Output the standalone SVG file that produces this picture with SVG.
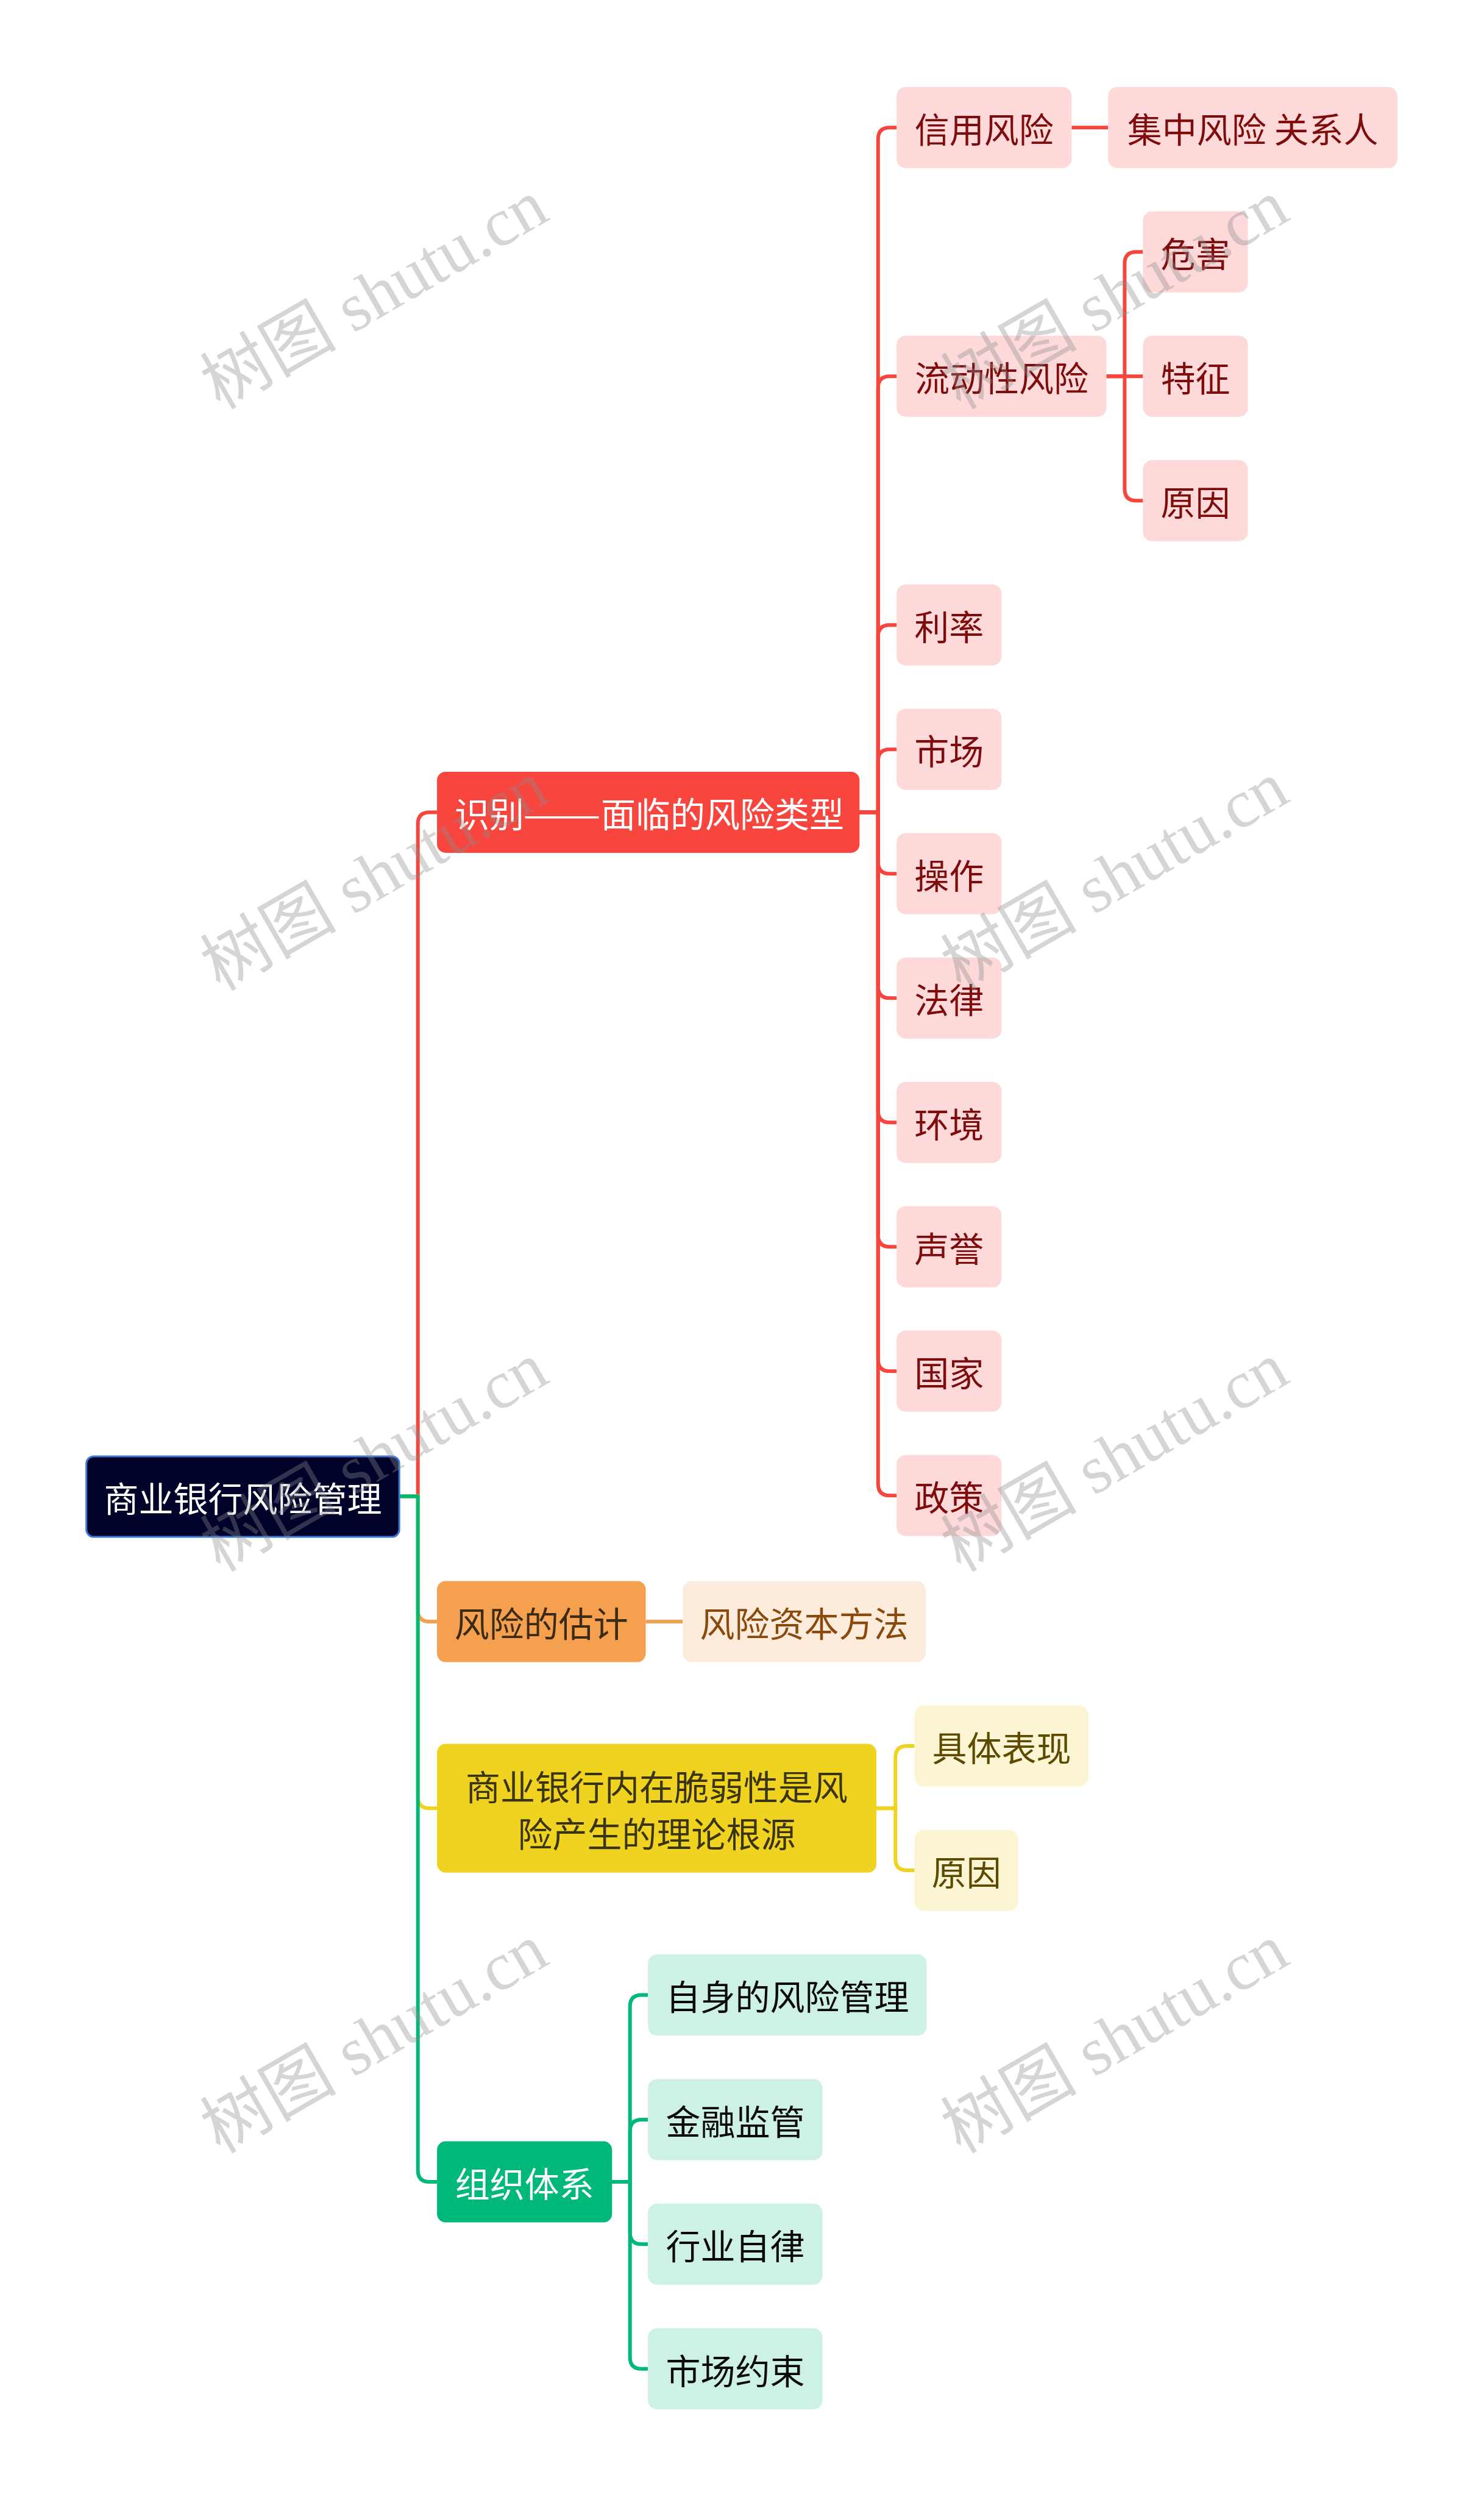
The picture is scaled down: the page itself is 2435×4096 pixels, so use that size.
<svg xmlns="http://www.w3.org/2000/svg" width="2435" height="4096" viewBox="0 0 2435 4096">
<style>
text{font-family:"Noto Sans CJK SC","Noto Sans",sans-serif;font-size:57px;text-anchor:middle;dominant-baseline:central}
.c{fill:none;stroke-width:6;stroke-linecap:butt}
.cr{stroke:#f5463e}.co{stroke:#f5a04f}.cy{stroke:#f0d321}.cg{stroke:#00b978}
.rc{fill:#fdd9d9}.rt{fill:#7f0c0c}
.wm{font-family:"Liberation Serif","Noto Sans CJK SC",serif;font-size:112px;fill:#8a8a8a;fill-opacity:0.36}
</style>
<rect width="2435" height="4096" fill="#ffffff"/>
<g id="connectors">
<path class="c cr" d="M655.2,2454.5 H685.7 V1351.4 Q685.7,1332.4 704.7,1332.4 H717.1"/>
<path class="c co" d="M655.2,2454.5 H685.7 V2641 Q685.7,2660 704.7,2660 H717.1"/>
<path class="c cy" d="M655.2,2454.5 H685.7 V2947.2 Q685.7,2966.2 704.7,2966.2 H717.1"/>
<path class="c cg" d="M655.2,2454.5 H685.7 V3560.1 Q685.7,3579.1 704.7,3579.1 H717.1"/>
<path class="c cr" d="M1410.3,1332.4 H1440.8 V228.2 Q1440.8,209.2 1459.8,209.2 H1471.2"/>
<path class="c cr" d="M1410.3,1332.4 H1440.8 V636.2 Q1440.8,617.2 1459.8,617.2 H1471.2"/>
<path class="c cr" d="M1410.3,1332.4 H1440.8 V1044.2 Q1440.8,1025.2 1459.8,1025.2 H1471.2"/>
<path class="c cr" d="M1410.3,1332.4 H1440.8 V1248.2 Q1440.8,1229.2 1459.8,1229.2 H1471.2"/>
<path class="c cr" d="M1410.3,1332.4 H1440.8 V1414.2 Q1440.8,1433.2 1459.8,1433.2 H1471.2"/>
<path class="c cr" d="M1410.3,1332.4 H1440.8 V1618.2 Q1440.8,1637.2 1459.8,1637.2 H1471.2"/>
<path class="c cr" d="M1410.3,1332.4 H1440.8 V1822.2 Q1440.8,1841.2 1459.8,1841.2 H1471.2"/>
<path class="c cr" d="M1410.3,1332.4 H1440.8 V2026.2 Q1440.8,2045.2 1459.8,2045.2 H1471.2"/>
<path class="c cr" d="M1410.3,1332.4 H1440.8 V2230.2 Q1440.8,2249.2 1459.8,2249.2 H1471.2"/>
<path class="c cr" d="M1410.3,1332.4 H1440.8 V2434.2 Q1440.8,2453.2 1459.8,2453.2 H1471.2"/>
<path class="c cr" d="M1758.4,209.2 H1818.3"/>
<path class="c cr" d="M1815.5,617.2 H1845.4 V432.2 Q1845.4,413.2 1864.4,413.2 H1875.4"/>
<path class="c cr" d="M1815.5,617.2 H1875.4"/>
<path class="c cr" d="M1815.5,617.2 H1845.4 V802.2 Q1845.4,821.2 1864.4,821.2 H1875.4"/>
<path class="c co" d="M1059.5,2660 H1120.3"/>
<path class="c cy" d="M1438,2966.2 H1469.3 V2883 Q1469.3,2864 1488.3,2864 H1500.7"/>
<path class="c cy" d="M1438,2966.2 H1469.3 V3049 Q1469.3,3068 1488.3,3068 H1500.7"/>
<path class="c cg" d="M1004.3,3579.1 H1033.7 V3291.4 Q1033.7,3272.4 1052.7,3272.4 H1063.2"/>
<path class="c cg" d="M1004.3,3579.1 H1033.7 V3495.9 Q1033.7,3476.9 1052.7,3476.9 H1063.2"/>
<path class="c cg" d="M1004.3,3579.1 H1033.7 V3662.3 Q1033.7,3681.3 1052.7,3681.3 H1063.2"/>
<path class="c cg" d="M1004.3,3579.1 H1033.7 V3866.8 Q1033.7,3885.8 1052.7,3885.8 H1063.2"/>
</g>
<g id="root"><rect x="141.7" y="2388.9" width="513.5" height="132.2" rx="12" fill="#000229" stroke="#3d7ad6" stroke-width="3"/><text x="398.5" y="2455" fill="#ffffff">商业银行风险管理</text></g>
<g id="n-shibie"><rect x="717.1" y="1265.9" width="693.2" height="133" rx="14" fill="#f8453e"/><text x="746" y="1332.4" fill="#ffffff" style="text-anchor:start">识别<tspan x="858" textLength="128" lengthAdjust="spacingAndGlyphs">——</tspan><tspan x="986">面临的风险类型</tspan></text></g>
<g id="n-xinyong"><rect class="rc" x="1471.2" y="142.7" width="287.2" height="133" rx="15"/><text class="rt" x="1614.8" y="209.2">信用风险</text></g>
<g id="n-jizhong"><rect class="rc" x="1818.3" y="142.7" width="474.5" height="133" rx="15"/><text class="rt" x="2055.6" y="209.2">集中风险 关系人</text></g>
<g id="n-liudong"><rect class="rc" x="1471.2" y="550.7" width="344.3" height="133" rx="15"/><text class="rt" x="1643.4" y="617.2">流动性风险</text></g>
<g id="n-weihai"><rect class="rc" x="1875.4" y="346.7" width="172.1" height="133" rx="15"/><text class="rt" x="1961.5" y="413.2">危害</text></g>
<g id="n-tezheng"><rect class="rc" x="1875.4" y="550.7" width="172.1" height="133" rx="15"/><text class="rt" x="1961.5" y="617.2">特征</text></g>
<g id="n-yuanyin1"><rect class="rc" x="1875.4" y="754.7" width="172.1" height="133" rx="15"/><text class="rt" x="1961.5" y="821.2">原因</text></g>
<g id="n-lilv"><rect class="rc" x="1471.2" y="958.7" width="172.1" height="133" rx="15"/><text class="rt" x="1557.3" y="1025.2">利率</text></g>
<g id="n-shichang"><rect class="rc" x="1471.2" y="1162.7" width="172.1" height="133" rx="15"/><text class="rt" x="1557.3" y="1229.2">市场</text></g>
<g id="n-caozuo"><rect class="rc" x="1471.2" y="1366.7" width="172.1" height="133" rx="15"/><text class="rt" x="1557.3" y="1433.2">操作</text></g>
<g id="n-falv"><rect class="rc" x="1471.2" y="1570.7" width="172.1" height="133" rx="15"/><text class="rt" x="1557.3" y="1637.2">法律</text></g>
<g id="n-huanjing"><rect class="rc" x="1471.2" y="1774.7" width="172.1" height="133" rx="15"/><text class="rt" x="1557.3" y="1841.2">环境</text></g>
<g id="n-shengyu"><rect class="rc" x="1471.2" y="1978.7" width="172.1" height="133" rx="15"/><text class="rt" x="1557.3" y="2045.2">声誉</text></g>
<g id="n-guojia"><rect class="rc" x="1471.2" y="2182.7" width="172.1" height="133" rx="15"/><text class="rt" x="1557.3" y="2249.2">国家</text></g>
<g id="n-zhengce"><rect class="rc" x="1471.2" y="2386.7" width="172.1" height="133" rx="15"/><text class="rt" x="1557.3" y="2453.2">政策</text></g>
<g id="n-guji"><rect x="717.1" y="2593.5" width="342.4" height="133" rx="14" fill="#f5a04f"/><text x="888.3" y="2660" fill="#3b2a14">风险的估计</text></g>
<g id="n-ziben"><rect x="1120.3" y="2593.5" width="398.5" height="133" rx="15" fill="#fdebdc"/><text x="1319.6" y="2660" fill="#8a4a0c">风险资本方法</text></g>
<g id="n-cuiruo"><rect x="717.1" y="2860.6" width="720.9" height="211.2" rx="14" fill="#f0d321"/><text x="1077.6" y="2927.7" fill="#3a3410">商业银行内在脆弱性是风</text><text x="1077.6" y="3004.7" fill="#3a3410">险产生的理论根源</text></g>
<g id="n-biaoxian"><rect x="1500.7" y="2797.5" width="285.3" height="133" rx="15" fill="#fcf5d4"/><text x="1643.4" y="2864" fill="#5c4a00">具体表现</text></g>
<g id="n-yuanyin2"><rect x="1500.7" y="3001.5" width="170.2" height="133" rx="15" fill="#fcf5d4"/><text x="1585.8" y="3068" fill="#5c4a00">原因</text></g>
<g id="n-zuzhi"><rect x="717.1" y="3512.6" width="287.2" height="133" rx="14" fill="#00b978"/><text x="860.7" y="3579.1" fill="#ffffff">组织体系</text></g>
<g id="n-zishen"><rect x="1063.2" y="3205.9" width="457.4" height="133" rx="15" fill="#cdf1e2"/><text x="1291.9" y="3272.4" fill="#0a0a0a">自身的风险管理</text></g>
<g id="n-jinrong"><rect x="1063.2" y="3410.4" width="286.3" height="133" rx="15" fill="#cdf1e2"/><text x="1206.4" y="3476.9" fill="#0a0a0a">金融监管</text></g>
<g id="n-hangye"><rect x="1063.2" y="3614.8" width="286.3" height="133" rx="15" fill="#cdf1e2"/><text x="1206.4" y="3681.3" fill="#0a0a0a">行业自律</text></g>
<g id="n-yueshu"><rect x="1063.2" y="3819.3" width="286.3" height="133" rx="15" fill="#cdf1e2"/><text x="1206.4" y="3885.8" fill="#0a0a0a">市场约束</text></g>
<g id="watermarks">
<text class="wm" transform="translate(614,483) rotate(-30)">树图 shutu.cn</text>
<text class="wm" transform="translate(1829,483) rotate(-30)">树图 shutu.cn</text>
<text class="wm" transform="translate(614,1437) rotate(-30)">树图 shutu.cn</text>
<text class="wm" transform="translate(1829,1437) rotate(-30)">树图 shutu.cn</text>
<text class="wm" transform="translate(614,2390) rotate(-30)">树图 shutu.cn</text>
<text class="wm" transform="translate(1829,2390) rotate(-30)">树图 shutu.cn</text>
<text class="wm" transform="translate(614,3344) rotate(-30)">树图 shutu.cn</text>
<text class="wm" transform="translate(1829,3344) rotate(-30)">树图 shutu.cn</text>
</g>
</svg>
